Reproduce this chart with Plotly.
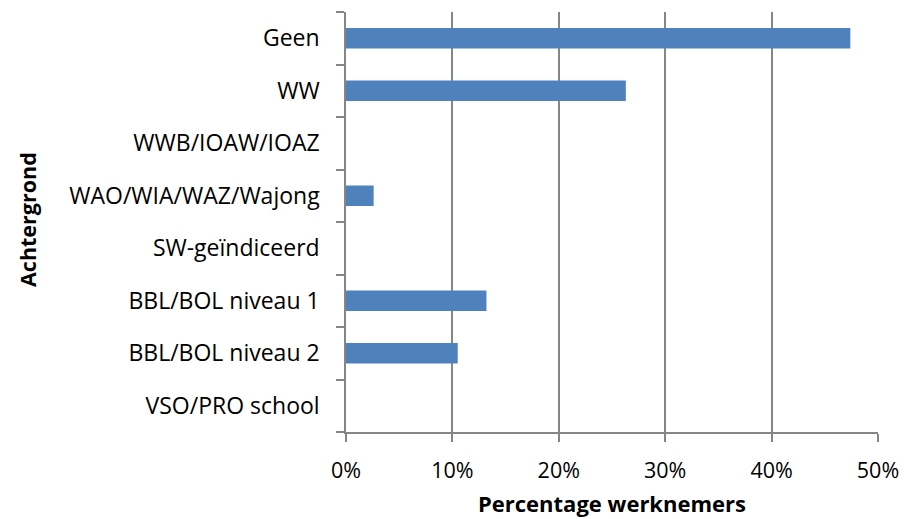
import plotly.graph_objects as go

categories = ["Geen", "WW", "WWB/IOAW/IOAZ", "WAO/WIA/WAZ/Wajong",
              "SW-geïndiceerd", "BBL/BOL niveau 1", "BBL/BOL niveau 2", "VSO/PRO school"]
values = [47.4, 26.3, 0.0, 2.6, 0.0, 13.2, 10.5, 0.0]  # percent
x_tickvals = [0, 10, 20, 30, 40, 50]
x_ticktext = ["0%", "10%", "20%", "30%", "40%", "50%"]

FONT = "Open Sans"
GRID = "#868686"

W, H = 904, 519
L, R, T, B = 346, 26, 12, 87
plot_h = H - T - B
plot_w = W - L - R

fig = go.Figure(go.Bar(
    y=categories, x=values, orientation="h",
    marker=dict(color="#4F81BD", line=dict(width=0)),
))

fig.update_layout(
    width=W, height=H,
    margin=dict(l=L, r=R, t=T, b=B, autoexpand=False),
    paper_bgcolor="white", plot_bgcolor="white",
    bargap=0.61,
    showlegend=False,
    font=dict(family=FONT, size=23, color="#000000"),
    annotations=[
        dict(text="<b>Percentage werknemers</b>", xref="paper", yref="paper",
             x=0.5, y=-(503 - (H - B)) / plot_h, xanchor="center", yanchor="middle",
             showarrow=False, font=dict(family=FONT, size=22)),
        dict(text="<b>Achtergrond</b>", xref="paper", yref="paper",
             x=(27 - L) / plot_w, y=(H - B - 220) / plot_h, xanchor="center", yanchor="middle",
             textangle=-90, showarrow=False, font=dict(family=FONT, size=21.5)),
    ],
)

fig.update_xaxes(
    range=[0, 50], tickvals=x_tickvals, ticktext=x_ticktext,
    showgrid=True, gridcolor=GRID, gridwidth=1.5,
    showline=True, linecolor=GRID, linewidth=1.5,
    ticks="outside", ticklen=8, tickcolor=GRID, tickwidth=1.5,
    zeroline=False, ticklabelstandoff=10, tickfont=dict(size=21.5),
    automargin=False,
)
fig.update_yaxes(
    categoryorder="array", categoryarray=categories[::-1],
    showline=True, linecolor=GRID, linewidth=1.5,
    ticks="outside", ticklen=8, tickcolor=GRID, tickwidth=1.5,
    tickson="boundaries", showgrid=False, ticklabelstandoff=20,
    automargin=False,
)

fig.write_html(
    "out.html",
    config={"displayModeBar": False},
    post_script="document.body.style.margin='0';document.body.style.overflow='hidden';",
)
